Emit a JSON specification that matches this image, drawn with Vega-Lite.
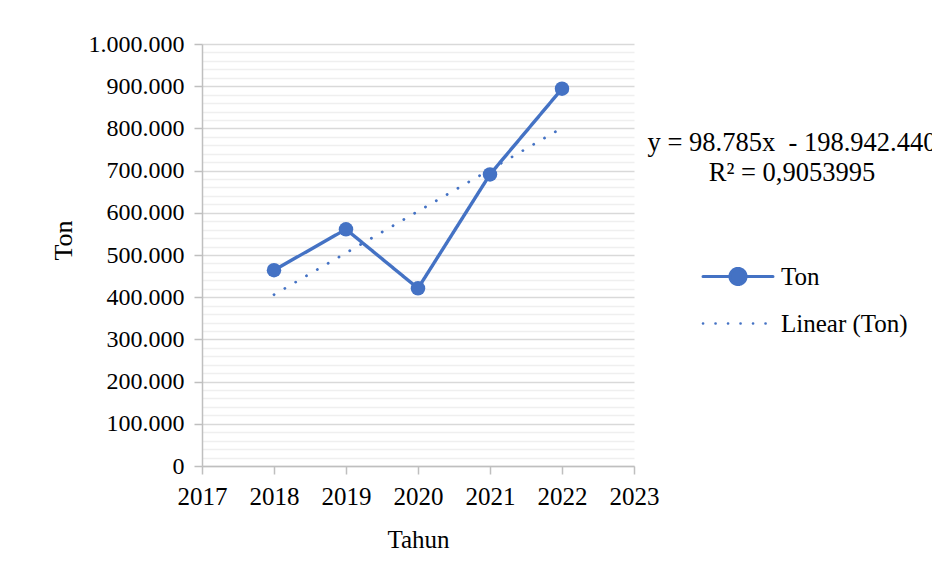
{
  "$schema": "https://vega.github.io/schema/vega-lite/v6.json",
  "autosize": {"type": "none"},
  "padding": {"left": 202, "top": 44, "right": 298, "bottom": 110},
  "width": 432,
  "height": 422,
  "background": "white",
  "title": {
    "text": ["y = 98.785x\u00a0 ‑ 198.942.440", "R² = 0,9053995"],
    "anchor": "start",
    "frame": "group",
    "align": "center",
    "baseline": "top",
    "dx": 590,
    "dy": 154,
    "offset": 0,
    "font": "Liberation Serif",
    "fontSize": 26.5,
    "fontWeight": "normal",
    "color": "black",
    "lineHeight": 30
  },
  "config": {
    "view": {"stroke": null},
    "font": "Liberation Serif",
    "axis": {
      "labelFont": "Liberation Serif",
      "titleFont": "Liberation Serif",
      "labelColor": "black",
      "titleColor": "black",
      "titleFontWeight": "normal",
      "domainColor": "#bfbfbf",
      "domainWidth": 1.5,
      "tickColor": "#bfbfbf",
      "tickWidth": 1.5,
      "tickSize": 8
    },
    "legend": {"labelFont": "Liberation Serif"}
  },
  "datasets": {
    "ton": [
      {"Tahun": 2018, "Ton": 464000, "Seri": "Ton"},
      {"Tahun": 2019, "Ton": 561000, "Seri": "Ton"},
      {"Tahun": 2020, "Ton": 421000, "Seri": "Ton"},
      {"Tahun": 2021, "Ton": 691000, "Seri": "Ton"},
      {"Tahun": 2022, "Ton": 894000, "Seri": "Ton"}
    ],
    "trend": [
      {"Tahun": 2018, "Ton": 406000, "Seri": "Linear (Ton)"},
      {"Tahun": 2022, "Ton": 801000, "Seri": "Linear (Ton)"}
    ]
  },
  "encoding": {
    "x": {"field": "Tahun", "type": "quantitative", "title": "Tahun",
      "scale": {"domain": [2017, 2023], "nice": false, "zero": false},
      "axis": {"values": [2017, 2018, 2019, 2020, 2021, 2022, 2023], "format": "d", "grid": false, "labelOverlap": false, "labelFlush": false, "labelFontSize": 25, "titleFontSize": 25, "labelPadding": 10, "titlePadding": 18}},
    "y": {"field": "Ton", "type": "quantitative", "title": "Ton",
      "scale": {"domain": [0, 1000000], "nice": false},
      "axis": {
        "values": [0, 20000, 40000, 60000, 80000, 100000, 120000, 140000, 160000, 180000, 200000, 220000, 240000, 260000, 280000, 300000, 320000, 340000, 360000, 380000, 400000, 420000, 440000, 460000, 480000, 500000, 520000, 540000, 560000, 580000, 600000, 620000, 640000, 660000, 680000, 700000, 720000, 740000, 760000, 780000, 800000, 820000, 840000, 860000, 880000, 900000, 920000, 940000, 960000, 980000, 1000000],
        "labelExpr": "datum.value % 100000 === 0 ? replace(replace(replace(format(datum.value, ','), ',', '.'), ',', '.'), ',', '.') : ''",
        "labelOverlap": false,
        "labelFlush": false,
        "labelFontSize": 24,
        "titleFontSize": 26,
        "labelPadding": 10,
        "titlePadding": 12,
        "titleY": 196,
        "grid": true,
        "gridColor": {"condition": {"test": "datum.value % 100000 === 0", "value": "#d9d9d9"}, "value": "#efefef"},
        "gridWidth": 1.5,
        "tickOpacity": {"condition": {"test": "datum.value % 100000 === 0", "value": 1}, "value": 0}
      }},
    "strokeDash": {"field": "Seri", "type": "nominal",
      "scale": {"domain": ["Ton", "Linear (Ton)"], "range": [[1, 0], [0.1, 12.4]]},
      "legend": {
        "orient": "none", "legendX": 501, "legendY": 220,
        "title": null, "labelFontSize": 25, "labelColor": "black", "labelOffset": 8,
        "symbolType": "stroke", "symbolSize": 4900, "symbolStrokeWidth": 3,
        "symbolStrokeColor": "#4472C4", "rowPadding": 20,
        "encode": {
          "symbols": {"update": {
            "shape": {"signal": "datum.value === 'Ton' ? 'M-1,0H-0.23M0.23,0H1M-0.23,0A0.23,0.23,0,1,0,0.23,0A0.23,0.23,0,1,0,-0.23,0Z' : 'stroke'"},
            "size": {"value": 4900},
            "x": {"value": 35},
            "stroke": {"value": "#4472C4"},
            "fill": {"signal": "datum.value === 'Ton' ? '#4472C4' : 'transparent'"},
            "strokeDash": {"signal": "datum.value === 'Ton' ? [1, 0] : [0.1, 12.4]"},
            "strokeWidth": {"signal": "datum.value === 'Ton' ? 3 : 2.6"},
            "strokeCap": {"value": "round"}
          }},
          "labels": {"update": {"x": {"value": 78}}}
        }
      }}
  },
  "layer": [
    {
      "data": {"name": "trend"},
      "mark": {"type": "line", "color": "#4472C4", "strokeWidth": 2.8, "strokeCap": "round"}
    },
    {
      "data": {"name": "ton"},
      "mark": {"type": "line", "color": "#4472C4", "strokeWidth": 3.4}
    },
    {
      "data": {"name": "ton"},
      "mark": {"type": "circle", "color": "#4472C4", "size": 210, "opacity": 1},
      "encoding": {"strokeDash": {"value": [1, 0]}}
    }
  ]
}
